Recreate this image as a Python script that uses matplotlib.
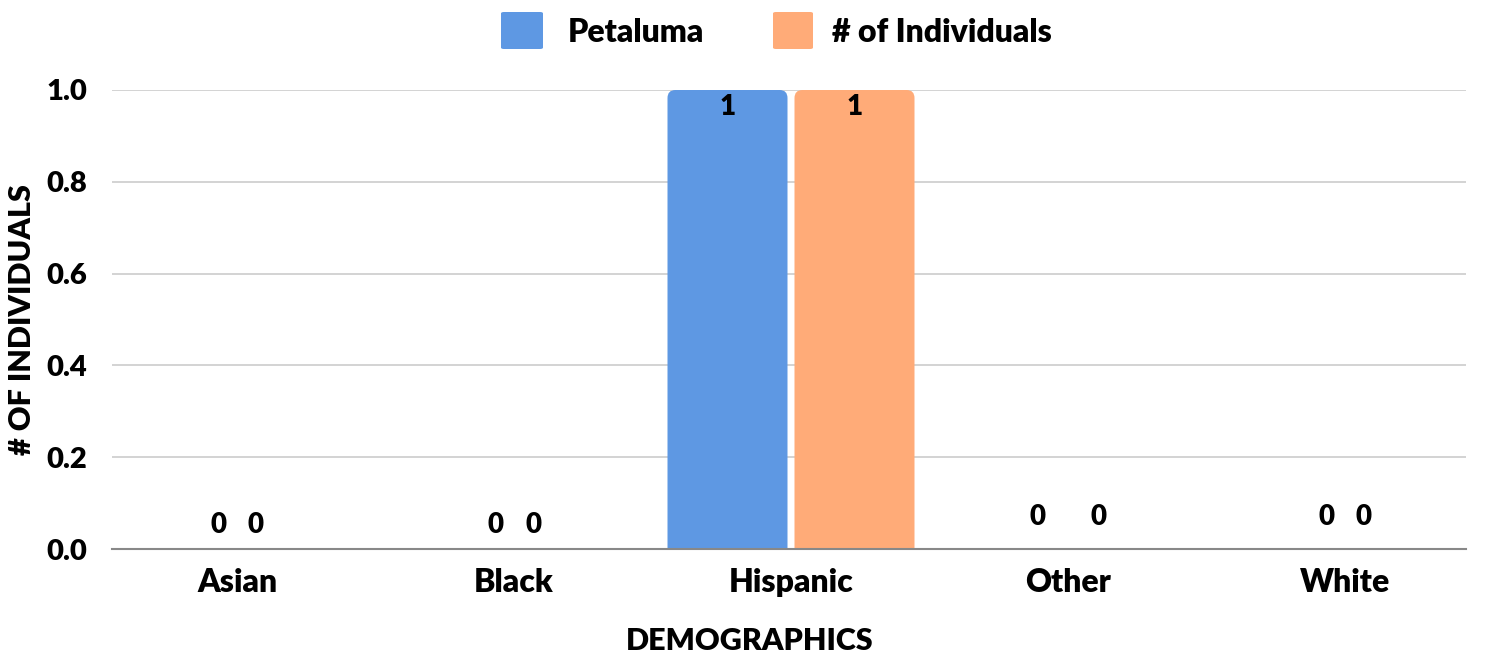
import matplotlib
matplotlib.use("Agg")
import matplotlib.pyplot as plt
from matplotlib.patches import FancyBboxPatch
import numpy as np

categories = ["Asian", "Black", "Hispanic", "Other", "White"]
series_names = ["Petaluma", "# of Individuals"]
petaluma = [0, 0, 1, 0, 0]
individuals = [0, 0, 1, 0, 0]
y_ticks = [0.0, 0.2, 0.4, 0.6, 0.8, 1.0]
x_title = "DEMOGRAPHICS"
y_title = "# OF INDIVIDUALS"

colors = ["#5e98e3", "#ffab78"]
FONT = ["Lato", "DejaVu Sans"]
plt.rcParams["font.family"] = FONT

W, H = 1486, 660
fig = plt.figure(figsize=(W / 100, H / 100), dpi=100)
ax_l, ax_r, ax_t, ax_b = 112, 1466, 90, 549
ax = fig.add_axes([ax_l / W, 1 - ax_b / H, (ax_r - ax_l) / W, (ax_b - ax_t) / H])

x = np.arange(len(categories))
px_per_x = 277.0
ax.set_xlim(-(237 - ax_l) / px_per_x, 4 + (ax_r - 1345) / px_per_x)
ax.set_ylim(0, 1.0)

bar_w = 120 / px_per_x
off = 63.5 / px_per_x
px_per_y = (ax_b - ax_t) / 1.0
r_px = 8
r_x = r_px / px_per_x
aspect = (r_px / px_per_y) / r_x

# zero-label spread per category (layout only)
zero_spread = [18.5, 19, 0, 30.5, 18.5]
zero_lift = [24, 24, 0, 32, 32]

for si, vals in enumerate([petaluma, individuals]):
    sign = -1 if si == 0 else 1
    for i, v in enumerate(vals):
        cx = x[i] + sign * off
        if v > 0:
            p = FancyBboxPatch((cx - bar_w / 2, -0.05), bar_w, v + 0.05,
                               boxstyle=f"round,pad=0,rounding_size={r_x}",
                               mutation_aspect=aspect, facecolor=colors[si],
                               edgecolor="none", zorder=3, clip_on=True)
            ax.add_patch(p)
            ax.text(cx, v - 17 / px_per_y, f"{v}", ha="center", va="center",
                    fontsize=20, fontweight="heavy", color="black", zorder=4)
        else:
            lx = x[i] + sign * zero_spread[i] / px_per_x
            ax.text(lx, zero_lift[i] / px_per_y, f"{v}", ha="center", va="center",
                    fontsize=20, fontweight="heavy", color="black", zorder=4)

ax.set_yticks(y_ticks)
ax.set_yticklabels([f"{t:.1f}" for t in y_ticks])
ax.set_xticks(x)
ax.set_xticklabels(categories)
ax.tick_params(axis="y", length=0, pad=18, labelsize=21)
ax.tick_params(axis="x", length=0, pad=14, labelsize=23)
for lab in ax.get_yticklabels() + ax.get_xticklabels():
    lab.set_fontweight("heavy")

ax.grid(axis="y", color="#cccccc", linewidth=1.2, zorder=0)
ax.set_axisbelow(True)
for s in ["top", "right", "left"]:
    ax.spines[s].set_visible(False)
ax.spines["bottom"].set_color("#888888")
ax.spines["bottom"].set_linewidth(1.5)
ax.spines["bottom"].set_zorder(5)

fig.text(750 / W, 1 - 641 / H, x_title, ha="center", va="center",
         fontsize=22, fontweight="heavy")
fig.text(22 / W, 1 - 320 / H, y_title, ha="center", va="center",
         rotation=90, fontsize=22, fontweight="heavy")

# legend
leg_items = [(501, 543, 568), (773, 813, 832)]
for (x0, x1, tx), name, c in zip(leg_items, series_names, colors):
    fig.patches.append(FancyBboxPatch((x0 / W, 1 - 49 / H), (x1 - x0) / W, 37 / H,
                                      boxstyle="round,pad=0,rounding_size=0.002",
                                      transform=fig.transFigure, facecolor=c,
                                      edgecolor="none"))
    fig.text(tx / W, 1 - 33 / H, name, ha="left", va="center",
             fontsize=23, fontweight="heavy")

fig.savefig("out.png", dpi=100, facecolor="white")
